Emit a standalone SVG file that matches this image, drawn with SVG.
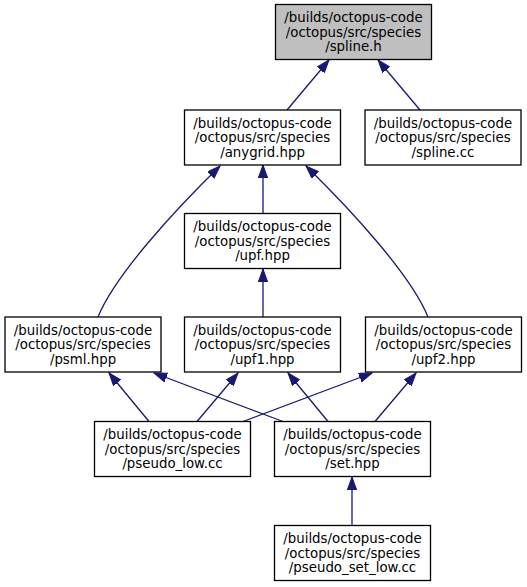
<svg xmlns="http://www.w3.org/2000/svg" width="527" height="587" viewBox="0 0 527 587">
<style>
.n rect{fill:#ffffff;stroke:#000000;stroke-width:1.3}
.n.root rect{fill:#bfbfbf}
.n text{font-family:"DejaVu Sans",sans-serif;font-size:13.33px;text-anchor:middle;fill:#000000}
.e path{fill:none;stroke:#191970;stroke-width:1.3;marker-end:url(#ah)}
</style>
<defs>
<marker id="ah" markerUnits="userSpaceOnUse" markerWidth="14" markerHeight="10" refX="13" refY="4.7" orient="auto">
<path d="M0,0 L13,4.7 L0,9.4 z" fill="#191970" stroke="#191970" stroke-width="1"/>
</marker>
</defs>
<rect width="527" height="587" fill="#ffffff"/>
<g id="connectors" class="e">
<path d="M287,110 L329,60"/>
<path d="M420,110 L378,60"/>
<path d="M263,213.5 L263,165"/>
<path d="M98,317 C115,275 175,210 220,166"/>
<path d="M428,317 C411,275 351,210 306,166"/>
<path d="M263,317 L263,269"/>
<path d="M149,421.5 L109,373"/>
<path d="M197,421.5 L238,373"/>
<path d="M243,421.5 L372,373"/>
<path d="M283,421.5 L154,373"/>
<path d="M328,421.5 L288,373"/>
<path d="M375,421.5 L416,373"/>
<path d="M352,525.5 L352,477"/>
</g>
<g id="spline_h" class="n root">
<rect x="275.5" y="4.5" width="156" height="55"/>
<text x="353.5" y="22">/builds/octopus-code</text>
<text x="353.5" y="36.7">/octopus/src/species</text>
<text x="353.5" y="51.3">/spline.h</text>
</g>
<g id="anygrid_hpp" class="n">
<rect x="184.5" y="110" width="156" height="55"/>
<text x="262.5" y="127.5">/builds/octopus-code</text>
<text x="262.5" y="142.2">/octopus/src/species</text>
<text x="262.5" y="156.8">/anygrid.hpp</text>
</g>
<g id="spline_cc" class="n">
<rect x="365" y="110" width="156" height="55"/>
<text x="443" y="127.5">/builds/octopus-code</text>
<text x="443" y="142.2">/octopus/src/species</text>
<text x="443" y="156.8">/spline.cc</text>
</g>
<g id="upf_hpp" class="n">
<rect x="184.5" y="213.5" width="156" height="55"/>
<text x="262.5" y="231">/builds/octopus-code</text>
<text x="262.5" y="245.7">/octopus/src/species</text>
<text x="262.5" y="260.3">/upf.hpp</text>
</g>
<g id="psml_hpp" class="n">
<rect x="5" y="317" width="156" height="55"/>
<text x="83" y="334.5">/builds/octopus-code</text>
<text x="83" y="349.2">/octopus/src/species</text>
<text x="83" y="363.8">/psml.hpp</text>
</g>
<g id="upf1_hpp" class="n">
<rect x="184.5" y="317" width="156" height="55"/>
<text x="262.5" y="334.5">/builds/octopus-code</text>
<text x="262.5" y="349.2">/octopus/src/species</text>
<text x="262.5" y="363.8">/upf1.hpp</text>
</g>
<g id="upf2_hpp" class="n">
<rect x="365.5" y="317" width="156" height="55"/>
<text x="443.5" y="334.5">/builds/octopus-code</text>
<text x="443.5" y="349.2">/octopus/src/species</text>
<text x="443.5" y="363.8">/upf2.hpp</text>
</g>
<g id="pseudo_low_cc" class="n">
<rect x="94.5" y="421.5" width="156" height="55"/>
<text x="172.5" y="439">/builds/octopus-code</text>
<text x="172.5" y="453.7">/octopus/src/species</text>
<text x="172.5" y="468.3">/pseudo_low.cc</text>
</g>
<g id="set_hpp" class="n">
<rect x="274.5" y="421.5" width="156" height="55"/>
<text x="352.5" y="439">/builds/octopus-code</text>
<text x="352.5" y="453.7">/octopus/src/species</text>
<text x="352.5" y="468.3">/set.hpp</text>
</g>
<g id="pseudo_set_low_cc" class="n">
<rect x="274.5" y="525.5" width="156" height="55"/>
<text x="352.5" y="543">/builds/octopus-code</text>
<text x="352.5" y="557.7">/octopus/src/species</text>
<text x="352.5" y="572.3">/pseudo_set_low.cc</text>
</g>
</svg>
